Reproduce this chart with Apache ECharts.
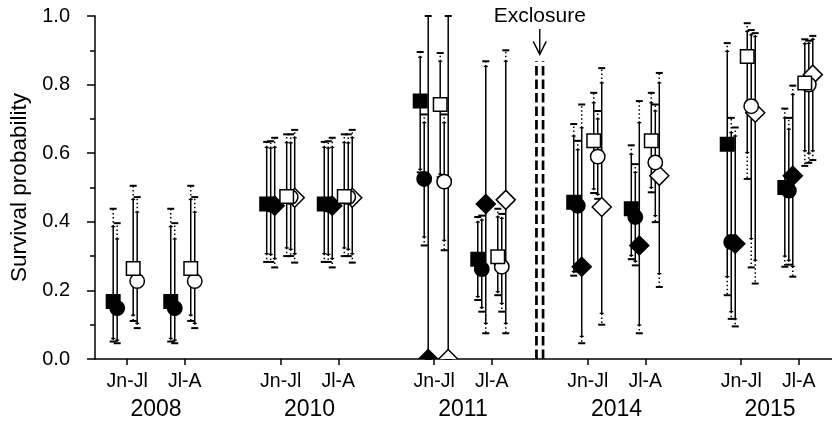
<!DOCTYPE html>
<html><head><meta charset="utf-8">
<script src="https://cdn.jsdelivr.net/npm/echarts@6/dist/echarts.min.js"></script>
<style>html,body{margin:0;padding:0;background:#fff}#c{width:832px;height:421px}</style>
</head><body><div id="c"></div>
<script>
// ---------- data ----------
const years = ['2008', '2010', '2011', '2014', '2015'];
const periods = ['Jn-Jl', 'Jl-A'];
const yTicks = [0, 0.2, 0.4, 0.6, 0.8, 1.0];
// slots: 2008 Jn-Jl, 2008 Jl-A, 2010 Jn-Jl, 2010 Jl-A, 2011 Jn-Jl, 2011 Jl-A, 2014 Jn-Jl, 2014 Jl-A, 2015 Jn-Jl, 2015 Jl-A
// each entry: [estimate, inner CI low, inner CI high, outer CI low, outer CI high]
const filledSquare = [
  [0.168, 0.060, 0.386, 0.051, 0.438],
  [0.168, 0.060, 0.386, 0.051, 0.438],
  [0.452, 0.307, 0.617, 0.283, 0.633],
  [0.452, 0.307, 0.617, 0.283, 0.633],
  [0.752, 0.553, 0.880, 0.544, 0.895],
  [0.291, 0.182, 0.399, 0.172, 0.414],
  [0.457, 0.255, 0.650, 0.243, 0.685],
  [0.438, 0.302, 0.597, 0.291, 0.623],
  [0.626, 0.240, 0.897, 0.186, 0.921],
  [0.500, 0.300, 0.703, 0.269, 0.730]
];
const filledCircle = [
  [0.148, 0.055, 0.350, 0.046, 0.396],
  [0.148, 0.055, 0.350, 0.046, 0.396],
  [0.450, 0.305, 0.615, 0.283, 0.635],
  [0.450, 0.305, 0.615, 0.283, 0.635],
  [0.525, 0.356, 0.689, 0.331, 0.713],
  [0.262, 0.150, 0.405, 0.138, 0.418],
  [0.447, 0.265, 0.610, 0.255, 0.636],
  [0.414, 0.285, 0.544, 0.273, 0.568],
  [0.341, 0.138, 0.660, 0.117, 0.703],
  [0.491, 0.288, 0.670, 0.275, 0.703]
];
const filledDiamond = [
  null,
  null,
  [0.447, 0.293, 0.617, 0.267, 0.645],
  [0.447, 0.293, 0.617, 0.267, 0.645],
  [0.000, 0.000, 1.000, 0.000, 1.000],
  [0.452, 0.104, 0.853, 0.075, 0.868],
  [0.269, 0.066, 0.674, 0.046, 0.742],
  [0.331, 0.099, 0.689, 0.075, 0.752],
  [0.336, 0.117, 0.650, 0.095, 0.675],
  [0.534, 0.270, 0.771, 0.240, 0.797]
];
const openSquare = [
  [0.264, 0.128, 0.465, 0.111, 0.505],
  [0.264, 0.128, 0.465, 0.111, 0.505],
  [0.474, 0.324, 0.631, 0.300, 0.655],
  [0.474, 0.324, 0.631, 0.300, 0.655],
  [0.742, 0.539, 0.868, 0.530, 0.892],
  [0.298, 0.196, 0.414, 0.186, 0.438],
  [0.636, 0.496, 0.747, 0.484, 0.776],
  [0.636, 0.500, 0.747, 0.486, 0.776],
  [0.882, 0.602, 0.955, 0.525, 0.979],
  [0.805, 0.607, 0.919, 0.563, 0.932]
];
const openCircle = [
  [0.227, 0.104, 0.428, 0.090, 0.472],
  [0.227, 0.104, 0.428, 0.090, 0.472],
  [0.472, 0.320, 0.630, 0.300, 0.655],
  [0.472, 0.320, 0.630, 0.300, 0.655],
  [0.517, 0.346, 0.689, 0.317, 0.713],
  [0.269, 0.162, 0.410, 0.138, 0.423],
  [0.590, 0.480, 0.700, 0.467, 0.723],
  [0.573, 0.418, 0.723, 0.399, 0.742],
  [0.737, 0.351, 0.945, 0.267, 0.959],
  [0.800, 0.600, 0.920, 0.572, 0.928]
];
const openDiamond = [
  null,
  null,
  [0.470, 0.307, 0.645, 0.281, 0.668],
  [0.470, 0.307, 0.645, 0.281, 0.668],
  [0.000, 0.000, 1.000, 0.000, 1.000],
  [0.464, 0.104, 0.868, 0.075, 0.900],
  [0.443, 0.133, 0.805, 0.100, 0.848],
  [0.534, 0.249, 0.805, 0.210, 0.834],
  [0.718, 0.288, 0.940, 0.220, 0.950],
  [0.829, 0.607, 0.932, 0.580, 0.942]
];
const exclosureLabel = 'Exclosure';
const exclosureAfterYear = 2; // between 2011 and 2014

// ---------- layout helpers ----------
const GROUP = 8, PERIOD_STEP = 3, FIRST = 2;
const slotPos = (g, p) => g * GROUP + FIRST + p * PERIOD_STEP;
const slots = [];
years.forEach((y, g) => periods.forEach((p, k) => slots.push({ pos: slotPos(g, k), period: p, year: y })));
const slotPositions = slots.map(s => s.pos);
const yearCenters = years.map((y, g) => (slotPos(g, 0) + slotPos(g, 1)) / 2);
const xMin = 0.323, xMax = 38.73;
const exclosureX = (slotPos(exclosureAfterYear, 1) + slotPos(exclosureAfterYear + 1, 0)) / 2;

const FONT = "'Liberation Sans', Arial, sans-serif";

const seriesDefs = [
  { name: 'filledSquare', data: filledSquare, shape: 'square', filled: true, off: -14 },
  { name: 'filledCircle', data: filledCircle, shape: 'circle', filled: true, off: -10 },
  { name: 'filledDiamond', data: filledDiamond, shape: 'diamond', filled: true, off: -6 },
  { name: 'openSquare', data: openSquare, shape: 'square', filled: false, off: 6 },
  { name: 'openCircle', data: openCircle, shape: 'circle', filled: false, off: 10 },
  { name: 'openDiamond', data: openDiamond, shape: 'diamond', filled: false, off: 14 }
];

function toData(arr) {
  const out = [];
  arr.forEach((e, i) => { if (e) out.push([slotPositions[i]].concat(e)); });
  return out;
}

function barRender(offset) {
  return function (params, api) {
    const x = api.value(0);
    const cx = api.coord([x, api.value(1)])[0] + offset;
    const yy = i => api.coord([x, api.value(i)])[1];
    const sLo = yy(2), sHi = yy(3), dLo = yy(4), dHi = yy(5);
    const solid = { stroke: '#000', lineWidth: 1.5 };
    const dotted = { stroke: '#000', lineWidth: 1.5, lineDash: [1.5, 2.5] };
    const capBig = { stroke: '#000', lineWidth: 2 };
    const capSmall = { stroke: '#000', lineWidth: 1.3 };
    const ch = [];
    const hline = (y, w, st) => ch.push({ type: 'line', shape: { x1: cx - w / 2, y1: y, x2: cx + w / 2, y2: y }, style: st });
    ch.push({ type: 'line', shape: { x1: cx, y1: sLo, x2: cx, y2: sHi }, style: solid });
    [[sHi, dHi], [sLo, dLo]].forEach(([s, d]) => {
      if (Math.abs(d - s) > 0.8) {
        ch.push({ type: 'line', shape: { x1: cx, y1: s, x2: cx, y2: d }, style: dotted });
        hline(s, 4, capSmall);
        hline(d, 7, capBig);
      } else {
        hline(s, 7, capBig);
      }
    });
    return { type: 'group', children: ch };
  };
}

function markerRender(offset, shape, filled) {
  return function (params, api) {
    const p = api.coord([api.value(0), api.value(1)]);
    const cx = p[0] + offset, cy = p[1];
    const style = { fill: filled ? '#000' : '#fff', stroke: '#000', lineWidth: 1.5 };
    if (shape === 'square') return { type: 'rect', shape: { x: cx - 6.75, y: cy - 6.75, width: 13.5, height: 13.5 }, style };
    if (shape === 'circle') return { type: 'circle', shape: { cx, cy, r: 7.2 }, style };
    const h = 9.5;
    return { type: 'polygon', shape: { points: [[cx, cy - h], [cx + h, cy], [cx, cy + h], [cx - h, cy]] }, style };
  };
}

const series = [];
seriesDefs.forEach(d => series.push({
  type: 'custom', name: d.name + 'CI', data: toData(d.data), encode: { x: 0, y: 1 },
  renderItem: barRender(d.off), clip: false, silent: true, animation: false
}));
['filledDiamond', 'openDiamond', 'filledCircle', 'openCircle', 'filledSquare', 'openSquare'].forEach(n => {
  const d = seriesDefs.find(s => s.name === n);
  series.push({
    type: 'custom', name: d.name, data: toData(d.data), encode: { x: 0, y: 1 },
    renderItem: markerRender(d.off, d.shape, d.filled), clip: true, silent: true, animation: false
  });
});
series.push({
  type: 'custom', name: 'exclosure', data: [[exclosureX, 0]], encode: { x: 0, y: 1 }, clip: false, silent: true, animation: false,
  renderItem: function (params, api) {
    const x = api.value(0);
    const base = api.coord([x, 0]);
    const top = api.coord([x, 0.868])[1];
    const cx = base[0];
    const dash = { stroke: '#000', lineWidth: 2.7, lineDash: [9.5, 4] };
    const arrowTop = api.coord([x, 0.962])[1];
    const arrowTip = api.coord([x, 0.888])[1];
    const textY = api.coord([x, 1.0])[1];
    const thin = { stroke: '#000', lineWidth: 1.4 };
    return {
      type: 'group', children: [
        { type: 'line', shape: { x1: cx - 3.3, y1: base[1], x2: cx - 3.3, y2: top }, style: dash },
        { type: 'line', shape: { x1: cx + 3.3, y1: base[1], x2: cx + 3.3, y2: top }, style: dash },
        { type: 'line', shape: { x1: cx, y1: arrowTop, x2: cx, y2: arrowTip }, style: thin },
        { type: 'polyline', shape: { points: [[cx - 6.5, arrowTip - 13], [cx, arrowTip], [cx + 6.5, arrowTip - 13]] }, style: { stroke: '#000', lineWidth: 1.4, fill: null } },
        { type: 'text', style: { x: cx, y: textY, text: exclosureLabel, fill: '#000', font: '21px ' + FONT, textAlign: 'center', textVerticalAlign: 'middle' } }
      ]
    };
  }
});

const chart = echarts.init(document.getElementById('c'), null, { renderer: 'canvas' });
chart.setOption({
  animation: false,
  backgroundColor: '#fff',
  grid: { left: 95, right: 0, top: 16, bottom: 60, containLabel: false },
  xAxis: [
    {
      type: 'value', min: xMin, max: xMax,
      axisLine: { show: true, onZero: false, lineStyle: { color: '#000', width: 1.5 } },
      axisTick: { show: true, customValues: slotPositions, length: 6, lineStyle: { color: '#000', width: 1.5 } },
      axisLabel: {
        customValues: slotPositions, margin: 13, color: '#000', fontSize: 19.5, fontFamily: FONT,
        formatter: v => { const s = slots.find(q => Math.abs(q.pos - v) < 1e-6); return s ? s.period : ''; }
      },
      splitLine: { show: false }
    },
    {
      type: 'value', min: xMin, max: xMax, position: 'bottom',
      axisLine: { show: false }, axisTick: { show: false },
      axisLabel: {
        customValues: yearCenters, margin: 39, color: '#000', fontSize: 23, fontFamily: FONT,
        formatter: v => { const i = yearCenters.findIndex(c => Math.abs(c - v) < 1e-6); return i >= 0 ? years[i] : ''; }
      },
      splitLine: { show: false }
    }
  ],
  yAxis: {
    type: 'value', min: 0, max: 1, interval: 0.2,
    axisLine: { show: true, lineStyle: { color: '#000', width: 1.5 } },
    axisTick: { show: true, length: 8, lineStyle: { color: '#000', width: 1.5 } },
    minorTick: { show: true, splitNumber: 2, length: 5, lineStyle: { color: '#000', width: 1.5 } },
    splitLine: { show: false },
    axisLabel: { customValues: yTicks, formatter: v => v.toFixed(1), fontSize: 20, color: '#000', margin: 25, fontFamily: FONT },
    name: 'Survival probability', nameLocation: 'middle', nameGap: 60,
    nameTextStyle: { fontSize: 22.5, color: '#000', fontFamily: FONT }
  },
  series
});
</script>
</body></html>
